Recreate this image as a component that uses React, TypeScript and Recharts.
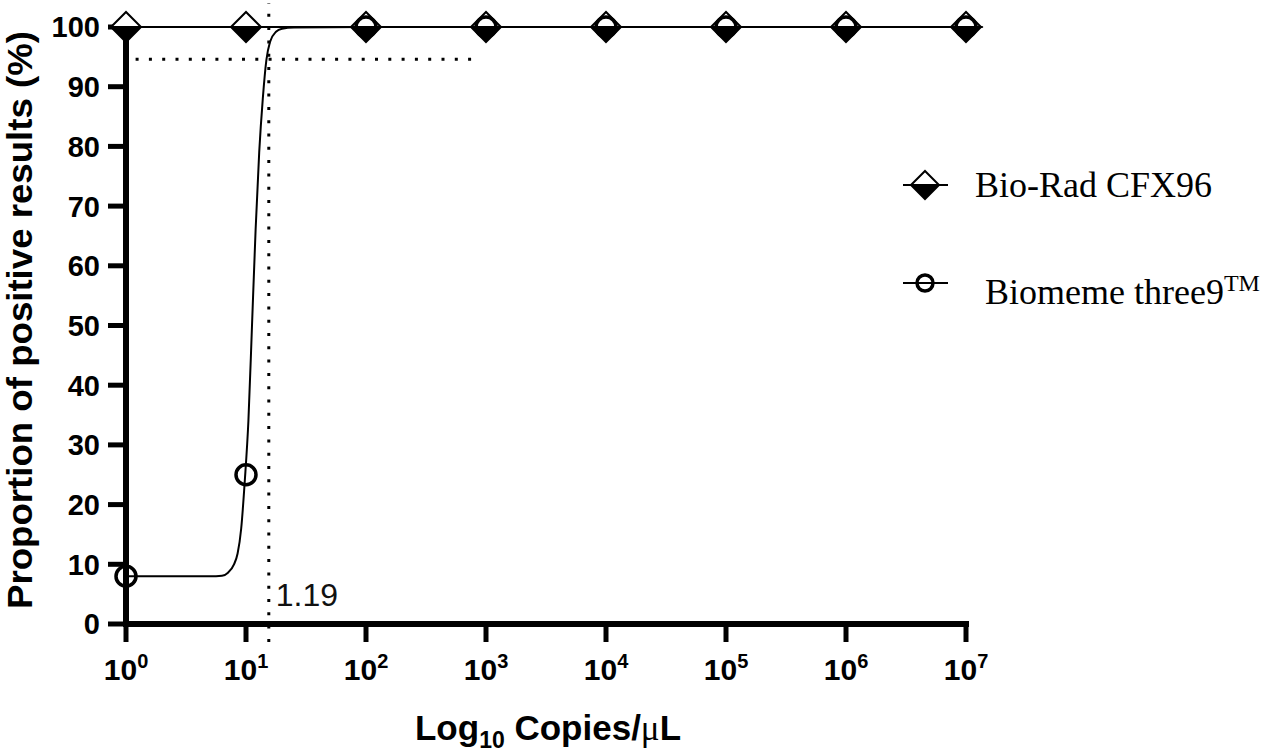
import React from "react";
import {
  ComposedChart,
  Line,
  XAxis,
  YAxis,
  ReferenceLine,
  ReferenceDot,
  Legend,
} from "recharts";

// x values are log10(copies/µL)
const exponents = [0, 1, 2, 3, 4, 5, 6, 7];
const bioRadValues = [100, 100, 100, 100, 100, 100, 100, 100];
const biomemeValues = [8, 25, 100, 100, 100, 100, 100, 100];

// fitted curve of the Biomeme series
const fitX = [0, 0.4, 0.7, 0.8, 0.85, 0.9, 0.93, 0.96, 0.99, 1.02, 1.05, 1.08, 1.11, 1.14, 1.17, 1.2, 1.25, 1.3, 1.4, 2, 3, 4, 5, 6, 7];
const fitY = [8, 8, 8, 8.1, 8.6, 10, 11.8, 16, 24, 34, 50, 66, 79, 88, 94.5, 97.5, 99.2, 99.7, 99.9, 100, 100, 100, 100, 100, 100];

const yTicks = [0, 10, 20, 30, 40, 50, 60, 70, 80, 90, 100];
const lodX = 1.19;
const lodY = 94.6;

const bioRad = exponents.map((x, i) => ({ x, y: bioRadValues[i] }));
const biomeme = exponents.map((x, i) => ({ x, y: biomemeValues[i] }));
const fit = fitX.map((x, i) => ({ x, y: fitY[i] }));

const sans = "'Liberation Sans', Arial, sans-serif";
const serif = "'Liberation Serif', 'Times New Roman', serif";

const Diamond = ({ cx, cy, r = 15 }: any) => (
  <g>
    <polygon points={`${cx - r},${cy} ${cx},${cy - r} ${cx + r},${cy}`} fill="#fff" stroke="#000" strokeWidth={2} />
    <polygon points={`${cx - r},${cy} ${cx + r},${cy} ${cx},${cy + r}`} fill="#000" stroke="#000" strokeWidth={2} />
  </g>
);

const OpenCircle = ({ cx, cy, r = 10 }: any) => (
  <circle cx={cx} cy={cy} r={r} fill="none" stroke="#000" strokeWidth={3.5} />
);

const XTick = ({ x, y, payload }: any) => (
  <text x={x} y={y + 36} textAnchor="middle" fontFamily={sans} fontWeight="bold" fontSize={30} fill="#000">
    <tspan>10</tspan>
    <tspan dy={-12} fontSize={20}>{payload.value}</tspan>
  </text>
);

const YTick = ({ x, y, payload }: any) => (
  <text x={x - 6} y={y} dy="0.36em" textAnchor="end" fontFamily={sans} fontWeight="bold" fontSize={29} fill="#000">
    {payload.value}
  </text>
);

const XTitle = ({ viewBox }: any) => (
  <text x={viewBox.x + viewBox.width / 2 + 2} y={740} textAnchor="middle" fontFamily={sans} fontWeight="bold" fontSize={35} fill="#000">
    <tspan>Log</tspan>
    <tspan dy={8} fontSize={23}>10</tspan>
    <tspan dy={-8}> Copies/</tspan>
    <tspan fontFamily={serif} fontWeight="normal">μ</tspan>
    <tspan>L</tspan>
  </text>
);

const YTitle = () => (
  <text
    x={0}
    y={0}
    transform="translate(32, 320) rotate(-90)"
    textAnchor="middle"
    fontFamily={sans}
    fontWeight="bold"
    fontSize={35}
    textLength={578}
    lengthAdjust="spacingAndGlyphs"
    fill="#000"
  >
    Proportion of positive results (%)
  </text>
);

const LegendBox = () => (
  <div style={{ position: "relative", width: 380, height: 160 }}>
    <svg width={50} height={40} style={{ position: "absolute", left: 0, top: 5 }}>
      <line x1={3} y1={20} x2={48} y2={20} stroke="#000" strokeWidth={2} />
      <Diamond cx={25} cy={20} r={14} />
    </svg>
    <div style={{ position: "absolute", left: 75, top: 0, fontFamily: serif, fontSize: 36, lineHeight: "50px", whiteSpace: "nowrap" }}>
      Bio-Rad CFX96
    </div>
    <svg width={50} height={40} style={{ position: "absolute", left: 0, top: 103 }}>
      <line x1={3} y1={20} x2={48} y2={20} stroke="#000" strokeWidth={2} />
      <OpenCircle cx={25} cy={20} r={8} />
    </svg>
    <div style={{ position: "absolute", left: 85, top: 98, fontFamily: serif, fontSize: 36, lineHeight: "50px", whiteSpace: "nowrap" }}>
      Biomeme three9<sup style={{ fontSize: 24, verticalAlign: "0.55em" }}>TM</sup>
    </div>
  </div>
);

export default function App() {
  return (
    <div style={{ position: "absolute", left: 0, top: 0, background: "#fff" }}>
      <ComposedChart width={1280} height={754} margin={{ top: 27, right: 314, bottom: 0, left: 0 }}>
        <XAxis
          type="number"
          dataKey="x"
          domain={[0, 7]}
          ticks={exponents}
          interval={0}
          height={130}
          tickSize={18}
          axisLine={{ stroke: "#000", strokeWidth: 6, strokeLinecap: "square" }}
          tickLine={{ stroke: "#000", strokeWidth: 5 }}
          tick={<XTick />}
          label={<XTitle />}
        />
        <YAxis
          type="number"
          domain={[0, 100]}
          ticks={yTicks}
          interval={0}
          width={126}
          tickSize={18}
          axisLine={{ stroke: "#000", strokeWidth: 6, strokeLinecap: "square" }}
          tickLine={{ stroke: "#000", strokeWidth: 5 }}
          tick={<YTick />}
          label={<YTitle />}
        />
        <ReferenceLine
          segment={[{ x: lodX, y: -3 }, { x: lodX, y: 104 }]}
          ifOverflow="visible"
          stroke="#000"
          strokeWidth={3}
          strokeDasharray="3 10.3"
        />
        <ReferenceLine
          segment={[{ x: 0.08, y: lodY }, { x: 2.96, y: lodY }]}
          ifOverflow="visible"
          stroke="#000"
          strokeWidth={3}
          strokeDasharray="3 10.3"
        />
        <ReferenceDot
          x={lodX}
          y={5}
          r={0}
          fill="none"
          stroke="none"
          ifOverflow="visible"
          label={{ value: "1.19", position: "right", offset: 7, fontSize: 32, fontFamily: sans, fill: "#111" }}
        />
        <Line
          data={bioRad}
          dataKey="y"
          name="Bio-Rad CFX96"
          stroke="#000"
          strokeWidth={2}
          isAnimationActive={false}
          dot={(p: any) => <Diamond key={`d-${p.index}`} cx={p.cx} cy={p.cy} />}
          activeDot={false}
        />
        <Line
          data={fit}
          dataKey="y"
          name="fit"
          type="monotone"
          stroke="#000"
          strokeWidth={2}
          dot={false}
          activeDot={false}
          isAnimationActive={false}
        />
        <Line
          data={biomeme}
          dataKey="y"
          name="Biomeme three9"
          stroke="none"
          isAnimationActive={false}
          dot={(p: any) => <OpenCircle key={`c-${p.index}`} cx={p.cx} cy={p.cy} />}
          activeDot={false}
        />
        <Legend
          layout="horizontal"
          verticalAlign="middle"
          align="center"
          wrapperStyle={{ left: 900, top: 160, width: 380 }}
          content={<LegendBox />}
        />
      </ComposedChart>
    </div>
  );
}
